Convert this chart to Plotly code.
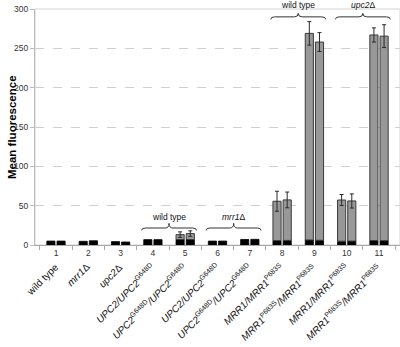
import plotly.graph_objects as go

numbers = ["1", "2", "3", "4", "5", "6", "7", "8", "9", "10", "11"]
strains = [
    "wild type",
    "<i>mrr1</i>Δ",
    "<i>upc2</i>Δ",
    "<i>UPC2/UPC2</i><sup>G648D</sup>",
    "<i>UPC2</i><sup>G648D</sup><i>/UPC2</i><sup>G648D</sup>",
    "<i>UPC2/UPC2</i><sup>G648D</sup>",
    "<i>UPC2</i><sup>G648D</sup><i>/UPC2</i><sup>G648D</sup>",
    "<i>MRR1/MRR1</i><sup>P683S</sup>",
    "<i>MRR1</i><sup>P683S</sup><i>/MRR1</i><sup>P683S</sup>",
    "<i>MRR1/MRR1</i><sup>P683S</sup>",
    "<i>MRR1</i><sup>P683S</sup><i>/MRR1</i><sup>P683S</sup>",
]
black_left = [5.0, 4.7, 4.3, 6.8, 7.0, 5.0, 7.0, 5.6, 6.4, 4.8, 5.6]
black_right = [5.0, 5.4, 3.8, 6.8, 7.0, 5.0, 7.2, 5.8, 6.0, 5.0, 5.5]
total_left = [5.0, 4.7, 4.3, 6.8, 13.2, 5.0, 7.0, 55.6, 269.0, 57.2, 267.0]
total_right = [5.0, 5.4, 3.8, 6.8, 14.5, 5.0, 7.2, 57.3, 258.0, 56.0, 265.5]
err_left = [0, 0, 0, 0, 3.5, 0, 0, 12.7, 15.0, 7.0, 9.0]
err_right = [0, 0, 0, 0, 3.5, 0, 0, 10.0, 12.0, 9.0, 14.5]

brace_groups = [
    # (first index, last index, label, level)
    (3, 4, "wild type", "low"),
    (5, 6, "<i>mrr1</i>Δ", "low"),
    (7, 8, "wild type", "high"),
    (9, 10, "<i>upc2</i>Δ", "high"),
]

FONT = "Arial, 'Liberation Sans', sans-serif"
YMAX = 300
x = list(range(len(numbers)))


def gray_part(total, black):
    return [t - b if t - b > 0.05 else None for t, b in zip(total, black)]


def errs(total, black, err):
    return [e if t - b > 0.05 else None for t, b, e in zip(total, black, err)]


fig = go.Figure()
for side, blk, tot, er in (("L", black_left, total_left, err_left),
                           ("R", black_right, total_right, err_right)):
    fig.add_trace(go.Bar(
        x=x, y=blk, offsetgroup=side,
        marker=dict(color="#000000", line=dict(color="#000000", width=0.8)),
        showlegend=False, hoverinfo="skip"))
    fig.add_trace(go.Bar(
        x=x, y=gray_part(tot, blk), base=blk, offsetgroup=side,
        marker=dict(color="#989898", line=dict(color="#3a3a3a", width=1)),
        error_y=dict(type="data", array=errs(tot, blk, er), color="#2a2a2a",
                     thickness=1, width=2),
        showlegend=False, hoverinfo="skip"))

shapes = [dict(type="rect", xref="paper", yref="paper", x0=0, x1=1, y0=0, y1=1,
               line=dict(color="#d4d4d4", width=1), layer="below")]
annotations = []

for a, b, label, level in brace_groups:
    xm = (a + b) / 2
    xa, xb = xm - 0.85, xm + 0.85
    if level == "low":
        ye, yh, yt, ytxt = 18.5, 21.6, 27.5, 35.5
    else:
        ye, yh, yt, ytxt = 286.8, 290.0, 294.4, 305.0
    r = 0.12
    path = (f"M {xa},{ye} Q {xa},{yh} {xa + r},{yh} L {xm - r},{yh} "
            f"Q {xm},{yh} {xm},{yt} Q {xm},{yh} {xm + r},{yh} "
            f"L {xb - r},{yh} Q {xb},{yh} {xb},{ye}")
    shapes.append(dict(type="path", xref="x", yref="y", path=path,
                       line=dict(color="#333333", width=1)))
    annotations.append(dict(x=xm, y=ytxt / YMAX, xref="x", yref="paper",
                            text=label, showarrow=False, xanchor="center",
                            yanchor="middle",
                            font=dict(family=FONT, size=8.5, color="#111111")))

for i, s in zip(x, strains):
    annotations.append(dict(x=i + 0.22, y=-17 / YMAX, xref="x", yref="paper",
                            text=s, showarrow=False, xanchor="right",
                            yanchor="top", textangle=-45,
                            font=dict(family=FONT, size=10, color="#111111")))

annotations.append(dict(x=0, y=0.5, xref="paper", yref="paper", xshift=-23,
                        text="<b>Mean fluorescence</b>", showarrow=False,
                        textangle=-90, xanchor="center", yanchor="middle",
                        font=dict(family=FONT, size=11.5, color="#000000")))

fig.update_layout(
    width=400, height=347,
    margin=dict(l=35, r=0, t=9, b=102),
    paper_bgcolor="white", plot_bgcolor="white",
    barmode="group", bargap=0.37, bargroupgap=0.2,
    font=dict(family=FONT, size=8.5, color="#333333"),
    shapes=shapes, annotations=annotations,
    xaxis=dict(range=[-0.65, 10.65], tickmode="array", tickvals=x,
               ticktext=numbers, ticks="", showgrid=False, zeroline=False,
               showline=True, linecolor="#a8a8a8", linewidth=1,
               tickfont=dict(family=FONT, size=8.5, color="#333333"),
               minor=dict(tickmode="array",
                          tickvals=[i - 0.5 for i in range(len(numbers) + 1)],
                          ticks="outside", ticklen=4, tickcolor="#a8a8a8",
                          showgrid=False)),
    yaxis=dict(range=[0, YMAX], tickmode="array",
               tickvals=[0, 50, 100, 150, 200, 250, 300],
               ticks="outside", ticklen=4, tickcolor="#bbbbbb",
               showline=True, linecolor="#bbbbbb", linewidth=1,
               showgrid=True, gridcolor="#d0d0d0", griddash="dash",
               zeroline=False,
               tickfont=dict(family=FONT, size=8.5, color="#333333")),
)

fig.write_html("out.html",
               config={"displayModeBar": False, "staticPlot": True},
               post_script="document.body.style.margin='0';"
                           "document.body.style.padding='0';")
